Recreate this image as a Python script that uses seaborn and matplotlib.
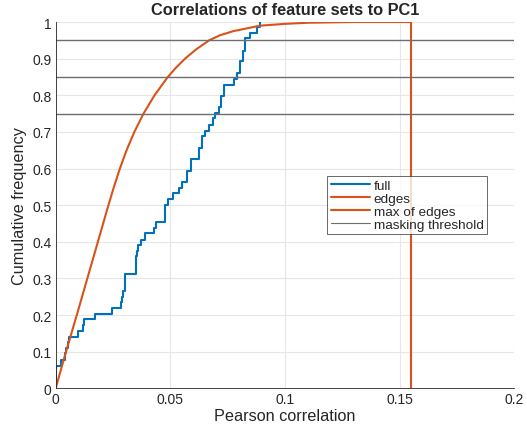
import pandas as pd
import matplotlib
matplotlib.use('Agg')
import matplotlib.pyplot as plt
import seaborn as sns

# blue stair: cumulative frequency of the full feature set
full_x = [0, 0, 0.0023, 0.0041, 0.0047, 0.0053, 0.0058, 0.0099, 0.0121, 0.0124,
          0.0172, 0.0244, 0.0285, 0.0289, 0.0292, 0.0302, 0.0351, 0.0355, 0.0358,
          0.037, 0.0389, 0.0429, 0.0437, 0.0477, 0.049, 0.0513, 0.0538, 0.0549,
          0.0571, 0.0592, 0.0625, 0.0636, 0.065, 0.067, 0.0684, 0.0694, 0.0713,
          0.0723, 0.0734, 0.0777, 0.0789, 0.0803, 0.0815, 0.0826, 0.0847, 0.0879,
          0.089]
full_y = [0, 0.06, 0.078, 0.095, 0.11, 0.125, 0.141, 0.157, 0.172, 0.188,
          0.204, 0.22, 0.235, 0.25, 0.265, 0.313, 0.36, 0.375, 0.39,
          0.406, 0.423, 0.438, 0.455, 0.5, 0.516, 0.532, 0.548, 0.564,
          0.594, 0.625, 0.657, 0.688, 0.703, 0.72, 0.737, 0.752, 0.768,
          0.797, 0.829, 0.845, 0.861, 0.893, 0.921, 0.955, 0.971, 0.986,
          1.0]

# orange curve: cumulative frequency of the edges
edges_x = [0, 0.0045, 0.0092, 0.0138, 0.0184, 0.023, 0.0254, 0.028, 0.0309,
           0.0343, 0.0383, 0.0431, 0.0489, 0.0524, 0.0564, 0.0612, 0.0669,
           0.0717, 0.0774, 0.0891, 0.1, 0.11, 0.13, 0.155]
edges_y = [0, 0.1, 0.2, 0.3, 0.4, 0.5, 0.55, 0.6, 0.65,
           0.7, 0.75, 0.8, 0.85, 0.875, 0.9, 0.925, 0.95,
           0.964, 0.975, 0.99, 0.995, 0.998, 1.0, 1.0]

max_edges = 0.155
thresholds = [0.75, 0.85, 0.95]

blue = '#0072BD'
orange = '#D95319'

sns.set_style('white')
plt.rcParams['font.family'] = ['Liberation Sans', 'DejaVu Sans']

fig = plt.figure(figsize=(5.27, 4.31), dpi=100)
ax = fig.add_axes([0.1057, 0.0968, 0.8702, 0.8498])

full_df = pd.DataFrame({'x': full_x, 'y': full_y})
edges_df = pd.DataFrame({'x': edges_x, 'y': edges_y})
max_df = pd.DataFrame({'x': [max_edges, max_edges], 'y': [0, 1]})

sns.lineplot(data=full_df, x='x', y='y', ax=ax, color=blue, lw=1.5,
             drawstyle='steps-post', estimator=None, sort=False, label='full')
sns.lineplot(data=edges_df, x='x', y='y', ax=ax, color=orange, lw=1.5,
             estimator=None, sort=False, label='edges')
sns.lineplot(data=max_df, x='x', y='y', ax=ax, color=orange, lw=1.5,
             estimator=None, sort=False, label='max of edges')
for i, t in enumerate(thresholds):
    ax.axhline(t, color='#6e6e6e', lw=1.0,
               label='masking threshold' if i == 0 else None)

ax.set_xlim(0, 0.2)
ax.set_ylim(0, 1)
ax.set_xticks([0, 0.05, 0.1, 0.15, 0.2])
ax.set_xticklabels(['0', '0.05', '0.1', '0.15', '0.2'])
ax.set_yticks([i / 10 for i in range(11)])
ax.set_yticklabels(['0'] + ['0.%d' % i for i in range(1, 10)] + ['1'])
ax.grid(True, color='#e6e6e6', lw=0.8)
ax.set_axisbelow(True)
for s in ['top', 'right']:
    ax.spines[s].set_visible(False)
for s in ['left', 'bottom']:
    ax.spines[s].set_color('#262626')
    ax.spines[s].set_linewidth(0.6)
ax.tick_params(direction='in', length=3, width=0.6, colors='#262626',
               labelsize=10, pad=3)

ax.set_title('Correlations of feature sets to PC1', fontsize=11.8,
             fontweight='bold', pad=6)
ax.set_xlabel('Pearson correlation', fontsize=11.7, color='#262626', labelpad=1)
ax.set_ylabel('Cumulative frequency', fontsize=11.7, color='#262626', labelpad=4)

leg = ax.legend(loc='upper left', bbox_to_anchor=(0.592, 0.58), fontsize=9.7,
                frameon=True, fancybox=False, edgecolor='#262626',
                borderpad=0.25, handlelength=2.9, handletextpad=0.3,
                labelspacing=0.05, borderaxespad=0)
leg.get_frame().set_linewidth(0.6)
leg.get_lines()[3].set_linewidth(0.8)

fig.savefig('out.png', dpi=100)
